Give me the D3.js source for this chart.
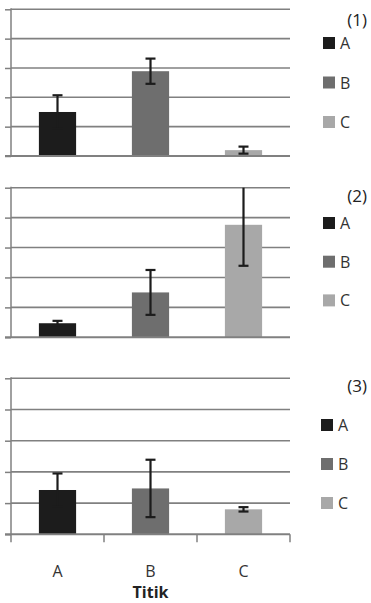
<!DOCTYPE html>
<html>
<head>
<meta charset="utf-8">
<script src="https://cdn.jsdelivr.net/npm/d3@7"></script>
<style>
  body { margin: 0; background: #fff; }
  svg { display: block; font-family: "Open Sans", Lato, sans-serif; }
</style>
</head>
<body>
<div id="chart"></div>
<script>
// values (arbitrary units, 5 gridline steps per panel)
const categories = ["A", "B", "C"]
const panelLabels = ["(1)", "(2)", "(3)"]
const yTicks = [0, 1, 2, 3, 4, 5]

const means1 = [1.50, 2.89, 0.20]
const errors1 = [0.57, 0.43, 0.12]
const means2 = [0.47, 1.50, 3.76]
const errors2 = [0.08, 0.75, 1.37]
const means3 = [1.42, 1.47, 0.80]
const errors3 = [0.53, 0.92, 0.07]

const colors = ["#1c1c1c", "#6e6e6e", "#a8a8a8"]
const xTitle = "Titik"

const width = 371, height = 603
const plotLeft = 11, plotRight = 290
const gridColor = "#808080"

// one entry per stacked panel: vertical placement and legend offsets
const panels = [
  { label: panelLabels[0], means: means1, errors: errors1, top: 9.3, bottom: 156, legendTop: 37, legendStep: 39.5, labelY: 26 },
  { label: panelLabels[1], means: means2, errors: errors2, top: 187.7, bottom: 337.3, legendTop: 217, legendStep: 38.7, labelY: 202 },
  { label: panelLabels[2], means: means3, errors: errors3, top: 378.3, bottom: 534.3, legendTop: 419, legendStep: 39, labelY: 392 }
]

const svg = d3.select("#chart")
  .append("svg")
    .attr("width", width)
    .attr("height", height)

const x = d3.scaleBand()
  .domain(categories)
  .range([plotLeft, plotRight])
  .paddingInner(0.6)
  .paddingOuter(0.3)

const xEdges = d3.scaleBand()
  .domain(categories)
  .range([plotLeft, plotRight])

panels.forEach((p, i) => {
  const y = d3.scaleLinear()
    .domain([0, 5])
    .range([p.bottom, p.top])

  const g = svg.append("g")

  // left ticks
  g.append("g")
    .attr("transform", `translate(${plotLeft},0)`)
    .call(d3.axisLeft(y).tickValues(yTicks).tickSize(6).tickFormat(""))
    .call(a => a.select(".domain").remove())
    .call(a => a.selectAll(".tick line").attr("stroke", gridColor).attr("stroke-width", 1.5))

  // gridlines
  g.append("g")
    .selectAll("line")
    .data(yTicks.slice(1))
    .enter().append("line")
      .attr("x1", plotLeft)
      .attr("x2", plotRight)
      .attr("y1", d => y(d))
      .attr("y2", d => y(d))
      .attr("stroke", gridColor)
      .attr("stroke-width", 1.6)

  // bars
  const data = categories.map((c, k) => ({ name: c, value: p.means[k], err: p.errors[k], color: colors[k] }))

  g.append("g")
    .selectAll("rect")
    .data(data)
    .enter().append("rect")
      .attr("x", d => x(d.name))
      .attr("y", d => y(d.value))
      .attr("width", x.bandwidth())
      .attr("height", d => y(0) - y(d.value))
      .attr("fill", d => d.color)

  // error bars (clipped to the axis max like the original)
  const eb = g.append("g")
      .attr("stroke", "#1c1c1c")
      .attr("stroke-width", 2.2)
    .selectAll("g")
    .data(data)
    .enter().append("g")
  const cx = d => x(d.name) + x.bandwidth() / 2
  const hi = d => Math.min(d.value + d.err, 5)
  const lo = d => Math.max(d.value - d.err, 0)
  eb.append("line")
    .attr("x1", cx).attr("x2", cx)
    .attr("y1", d => y(hi(d))).attr("y2", d => y(lo(d)))
  eb.filter(d => d.value + d.err <= 5).append("line")
    .attr("x1", d => cx(d) - 5).attr("x2", d => cx(d) + 5)
    .attr("y1", d => y(hi(d))).attr("y2", d => y(hi(d)))
  eb.append("line")
    .attr("x1", d => cx(d) - 5).attr("x2", d => cx(d) + 5)
    .attr("y1", d => y(lo(d))).attr("y2", d => y(lo(d)))

  // axis lines
  g.append("line")
    .attr("x1", plotLeft).attr("x2", plotLeft)
    .attr("y1", y(5) - 1).attr("y2", y(0))
    .attr("stroke", gridColor).attr("stroke-width", 1.5)
  g.append("line")
    .attr("x1", plotLeft - 6).attr("x2", plotRight)
    .attr("y1", y(0)).attr("y2", y(0))
    .attr("stroke", gridColor).attr("stroke-width", 2)

  // legend
  g.append("text")
    .attr("x", 367)
    .attr("y", p.labelY)
    .attr("text-anchor", "end")
    .attr("font-size", 17)
    .attr("fill", "#222")
    .text(p.label)

  const leg = g.append("g")
    .selectAll("g")
    .data(data)
    .enter().append("g")
      .attr("transform", (d, k) => `translate(${i === 2 ? 321 : 323},${p.legendTop + k * p.legendStep})`)
  leg.append("rect")
    .attr("width", 12).attr("height", 12)
    .attr("fill", d => d.color)
  leg.append("text")
    .attr("x", 17)
    .attr("y", 12)
    .attr("font-size", 16)
    .attr("fill", "#333")
    .text(d => d.name)

  // bottom axis ticks and labels only on the last panel
  if (i === panels.length - 1) {
    g.append("g")
      .selectAll("line")
      .data(categories.map(c => xEdges(c)).concat([plotRight]))
      .enter().append("line")
        .attr("x1", d => d).attr("x2", d => d)
        .attr("y1", y(0)).attr("y2", y(0) + 8)
        .attr("stroke", gridColor).attr("stroke-width", 1.5)

    g.append("g")
      .selectAll("text")
      .data(categories)
      .enter().append("text")
        .attr("x", d => x(d) + x.bandwidth() / 2)
        .attr("y", 577)
        .attr("text-anchor", "middle")
        .attr("font-size", 16)
        .attr("fill", "#333")
        .text(d => d)

    g.append("text")
      .attr("x", (plotLeft + plotRight) / 2)
      .attr("y", 598)
      .attr("text-anchor", "middle")
      .attr("font-size", 16)
      .attr("font-weight", "bold")
      .attr("fill", "#222")
      .text(xTitle)
  }
})
</script>
</body>
</html>
